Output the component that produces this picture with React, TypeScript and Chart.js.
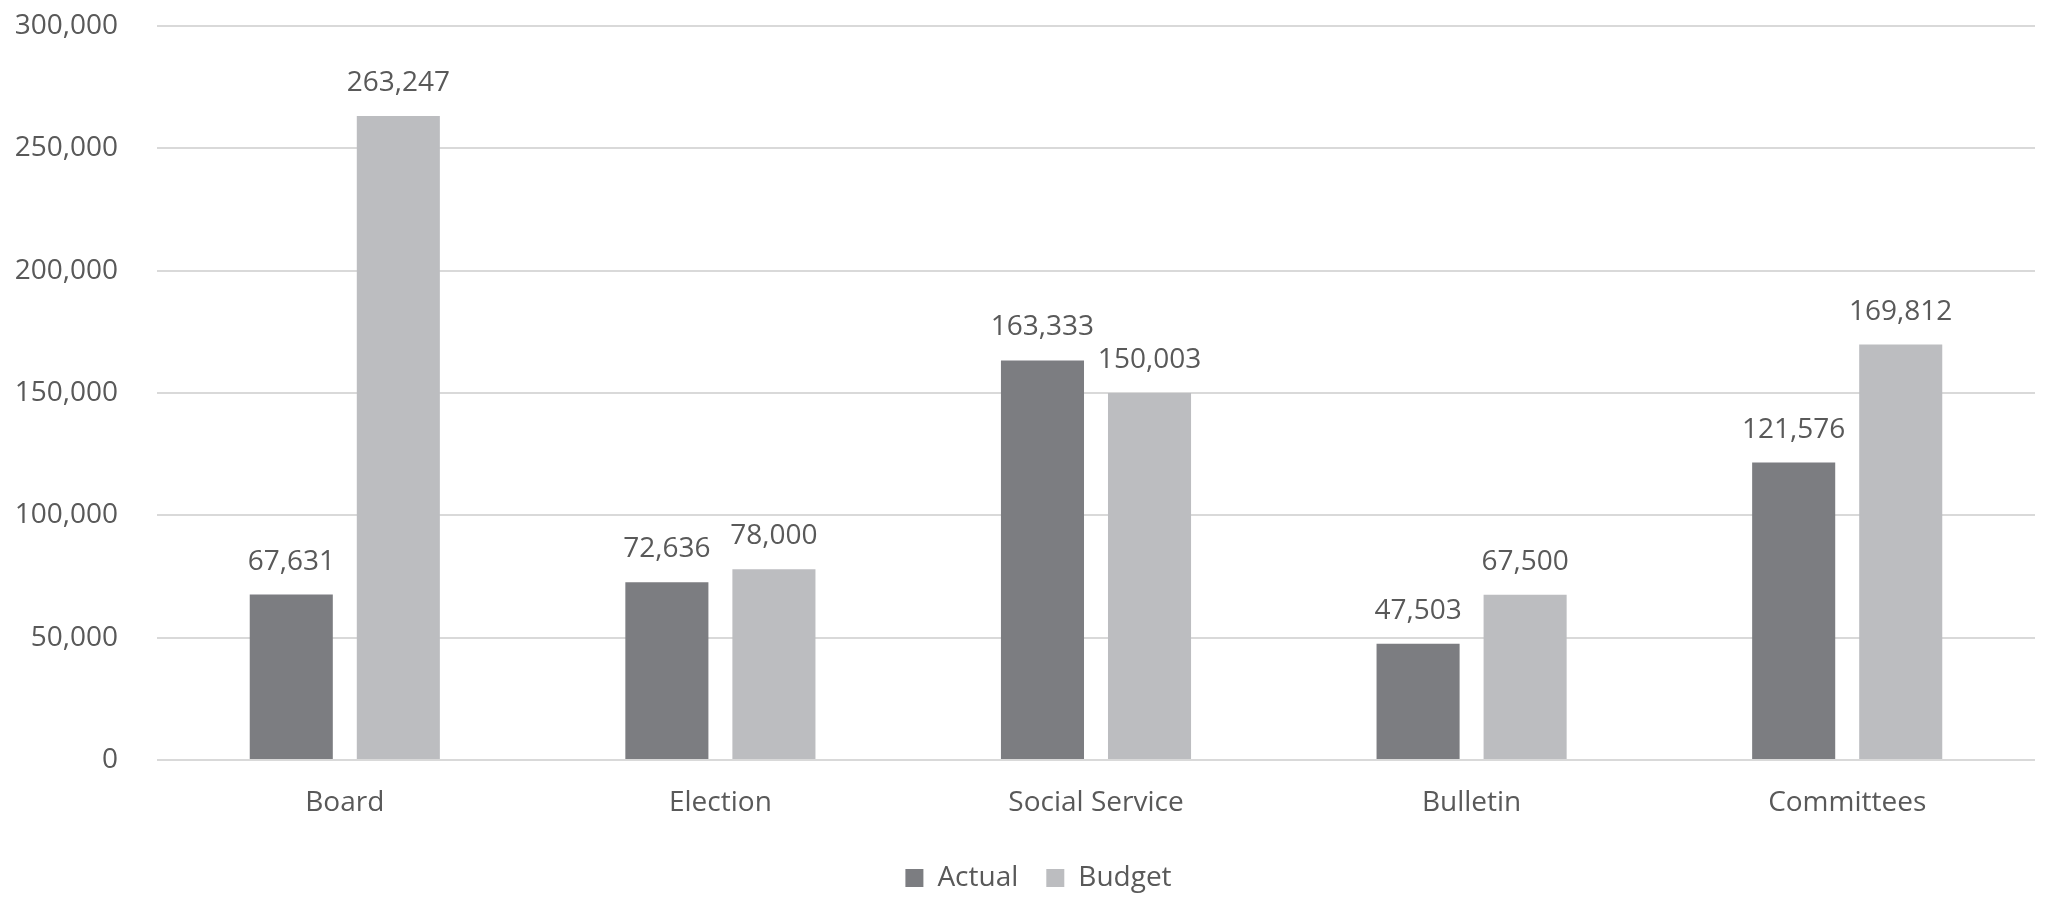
import React, { useEffect, useRef } from 'react';
import { Chart, registerables, ChartConfiguration, Plugin } from 'chart.js';

Chart.register(...registerables);

const categories = ['Board', 'Election', 'Social Service', 'Bulletin', 'Committees'];
const actualValues = [67631, 72636, 163333, 47503, 121576];
const budgetValues = [263247, 78000, 150003, 67500, 169812];
const yTicks = [0, 50000, 100000, 150000, 200000, 250000, 300000];

const TEXT = '#595959';
const FONT = '"Open Sans", "Liberation Sans", sans-serif';

// value labels on top of every bar
const barValueLabels: Plugin<'bar'> = {
  id: 'barValueLabels',
  afterDatasetsDraw(chart) {
    const { ctx } = chart;
    ctx.save();
    ctx.font = `28px ${FONT}`;
    ctx.fillStyle = TEXT;
    ctx.textAlign = 'center';
    ctx.textBaseline = 'alphabetic';
    chart.data.datasets.forEach((ds, i) => {
      const meta = chart.getDatasetMeta(i);
      meta.data.forEach((bar, j) => {
        const v = ds.data[j] as number;
        ctx.fillText(v.toLocaleString('en-US'), bar.x, bar.y - 25);
      });
    });
    ctx.restore();
  },
};

// the legend sits a little right of the canvas centre in the original
const nudgeLegend: Plugin<'bar'> = {
  id: 'nudgeLegend',
  afterLayout(chart) {
    if (chart.legend) chart.legend.left += 42;
  },
};

const BudgetChart: React.FC = () => {
  const canvasRef = useRef<HTMLCanvasElement>(null);
  const chartRef = useRef<Chart | null>(null);

  useEffect(() => {
    if (!canvasRef.current) return;
    if (chartRef.current) chartRef.current.destroy();

    const config: ChartConfiguration<'bar'> = {
      type: 'bar',
      data: {
        labels: categories,
        datasets: [
          {
            label: 'Actual',
            data: actualValues,
            backgroundColor: '#7c7d81',
            categoryPercentage: 0.57,
            barPercentage: 0.776,
          },
          {
            label: 'Budget',
            data: budgetValues,
            backgroundColor: '#bcbdc0',
            categoryPercentage: 0.57,
            barPercentage: 0.776,
          },
        ],
      },
      options: {
        responsive: true,
        maintainAspectRatio: false,
        animation: false,
        layout: { padding: { top: 26, right: 21, bottom: 13, left: 0 } },
        plugins: {
          title: { display: false },
          tooltip: { enabled: false },
          legend: {
            display: true,
            position: 'bottom',
            labels: {
              boxWidth: 18,
              boxHeight: 18,
              padding: 28,
              color: TEXT,
              font: { size: 28, family: FONT },
            },
          },
        },
        scales: {
          x: {
            grid: { display: false, drawTicks: false },
            border: { display: false },
            ticks: {
              color: TEXT,
              font: { size: 28, family: FONT },
              padding: 26,
            },
            afterFit(scale) {
              scale.height = 76;
            },
          },
          y: {
            min: 0,
            max: 300000,
            afterBuildTicks(scale) {
              scale.ticks = yTicks.map(value => ({ value }));
            },
            grid: { color: '#d9d9d9', lineWidth: 2, drawTicks: false },
            border: { display: false },
            ticks: {
              color: TEXT,
              font: { size: 28, family: FONT },
              padding: 39,
              callback: value => Number(value).toLocaleString('en-US'),
            },
            afterFit(scale) {
              scale.width = 157;
              // keep the tick padding from pushing the plot area down
              scale.paddingTop = 0;
              scale.paddingBottom = 0;
            },
          },
        },
      },
      plugins: [barValueLabels, nudgeLegend],
    };

    chartRef.current = new Chart(canvasRef.current, config);

    return () => {
      if (chartRef.current) {
        chartRef.current.destroy();
        chartRef.current = null;
      }
    };
  }, []);

  return (
    <div style={{ position: 'relative', width: 2056, height: 915, background: '#ffffff' }}>
      <canvas ref={canvasRef} />
    </div>
  );
};

export default function App() {
  useEffect(() => {
    document.body.style.margin = '0';
  }, []);
  return <BudgetChart />;
}
